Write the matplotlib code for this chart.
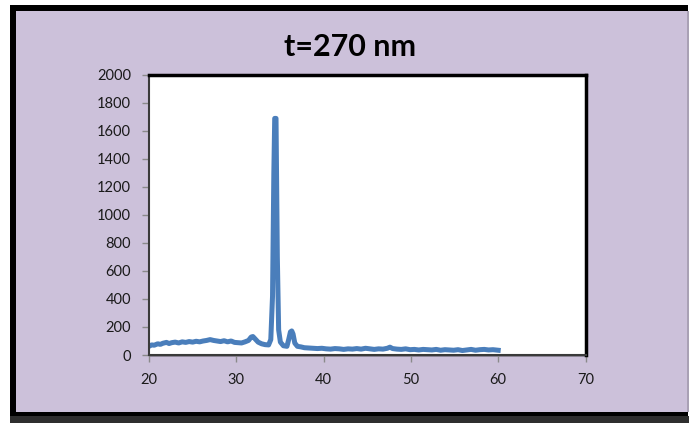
import matplotlib
matplotlib.use("Agg")
import matplotlib.pyplot as plt
from matplotlib.patches import Rectangle

# ---- data ----
two_theta = [20.0, 20.3, 20.6, 21.0, 21.3, 21.6, 22.0, 22.3, 22.6, 23.0, 23.4, 23.8,
             24.2, 24.6, 25.0, 25.4, 25.8, 26.2, 26.6, 27.0, 27.4, 27.8, 28.2, 28.6,
             29.0, 29.4, 29.8, 30.2, 30.6, 31.0, 31.4, 31.7, 31.9, 32.2, 32.5, 32.9,
             33.3, 33.7, 33.95, 34.15, 34.3, 34.4, 34.55, 34.7, 34.85, 35.05, 35.4,
             35.8, 36.0, 36.2, 36.35, 36.5, 36.7, 37.0, 37.4, 37.8, 38.3, 38.8, 39.3,
             39.8, 40.3, 40.8, 41.3, 41.8, 42.3, 42.8, 43.3, 43.8, 44.3, 44.8, 45.3,
             45.8, 46.3, 46.8, 47.3, 47.6, 47.9, 48.4, 48.9, 49.4, 49.9, 50.4, 50.9,
             51.4, 51.9, 52.4, 52.9, 53.4, 53.9, 54.4, 54.9, 55.4, 55.9, 56.4, 56.9,
             57.4, 57.9, 58.4, 58.9, 59.4, 60.0]
intensity = [62, 72, 70, 80, 76, 84, 90, 82, 88, 92, 86, 94,
             90, 96, 92, 98, 94, 100, 104, 110, 104, 100, 96, 102,
             94, 100, 90, 88, 86, 94, 104, 128, 132, 112, 92, 80,
             74, 72, 110, 420, 1300, 1690, 1690, 700, 180, 92, 66,
             62, 110, 165, 172, 150, 85, 62, 58, 52, 50, 48, 46,
             48, 44, 42, 46, 44, 40, 44, 42, 46, 42, 48, 44,
             40, 44, 42, 48, 56, 46, 42, 40, 44, 38, 40, 36,
             40, 38, 36, 40, 34, 38, 36, 34, 38, 32, 36, 40,
             34, 38, 40, 36, 38, 34]
title = "t=270 nm"
x_ticks = [20, 30, 40, 50, 60, 70]
y_ticks = list(range(0, 2001, 200))

W, H = 689, 423
fig = plt.figure(figsize=(W / 100, H / 100), dpi=100, facecolor="white")

# background axes in pixel coordinates (y downward)
bg = fig.add_axes([0, 0, 1, 1])
bg.set_xlim(0, W)
bg.set_ylim(H, 0)
bg.axis("off")
bg.add_patch(Rectangle((10, 5), 678, 413, facecolor="black", edgecolor="none"))
bg.add_patch(Rectangle((10, 416), 679, 7, facecolor="#2e2e2e", edgecolor="none"))
bg.add_patch(Rectangle((16, 11), 672, 401, facecolor="#CCC1DA", edgecolor="none"))
bg.add_patch(Rectangle((686.5, 11), 2.5, 401, facecolor="#a9a1b5", edgecolor="none"))
# soft shadow behind plot area (top/right)
bg.add_patch(Rectangle((150, 74), 438, 283, facecolor="#8f8898", edgecolor="none"))

ax = fig.add_axes([149 / W, 1 - 355 / H, (585.5 - 149) / W, (355 - 75) / H])
ax.set_facecolor("white")
ax.plot(two_theta, intensity, color="#4A7EBB", lw=3.6, solid_joinstyle="round")
ax.set_xlim(20, 70)
ax.set_ylim(0, 2000)
ax.set_xticks(x_ticks)
ax.set_yticks(y_ticks)

for s in ["left", "bottom"]:
    ax.spines[s].set_color("#3a3a3a")
    ax.spines[s].set_linewidth(1.5)
for s in ["top", "right"]:
    ax.spines[s].set_color("black")
    ax.spines[s].set_linewidth(2.5)

ax.tick_params(axis="both", direction="out", length=5, width=1, color="#8a8a8a",
               labelsize=10.5, labelcolor="#1a1a1a")
ax.tick_params(axis="y", pad=8)
ax.tick_params(axis="x", pad=8)
for lab in ax.get_xticklabels() + ax.get_yticklabels():
    lab.set_fontfamily("Lato")

fig.text(350 / W, 1 - 47 / H, title, ha="center", va="center", fontsize=22,
         fontweight="bold", family="Lato", color="black")

fig.savefig("out.png", dpi=100, facecolor=fig.get_facecolor())
